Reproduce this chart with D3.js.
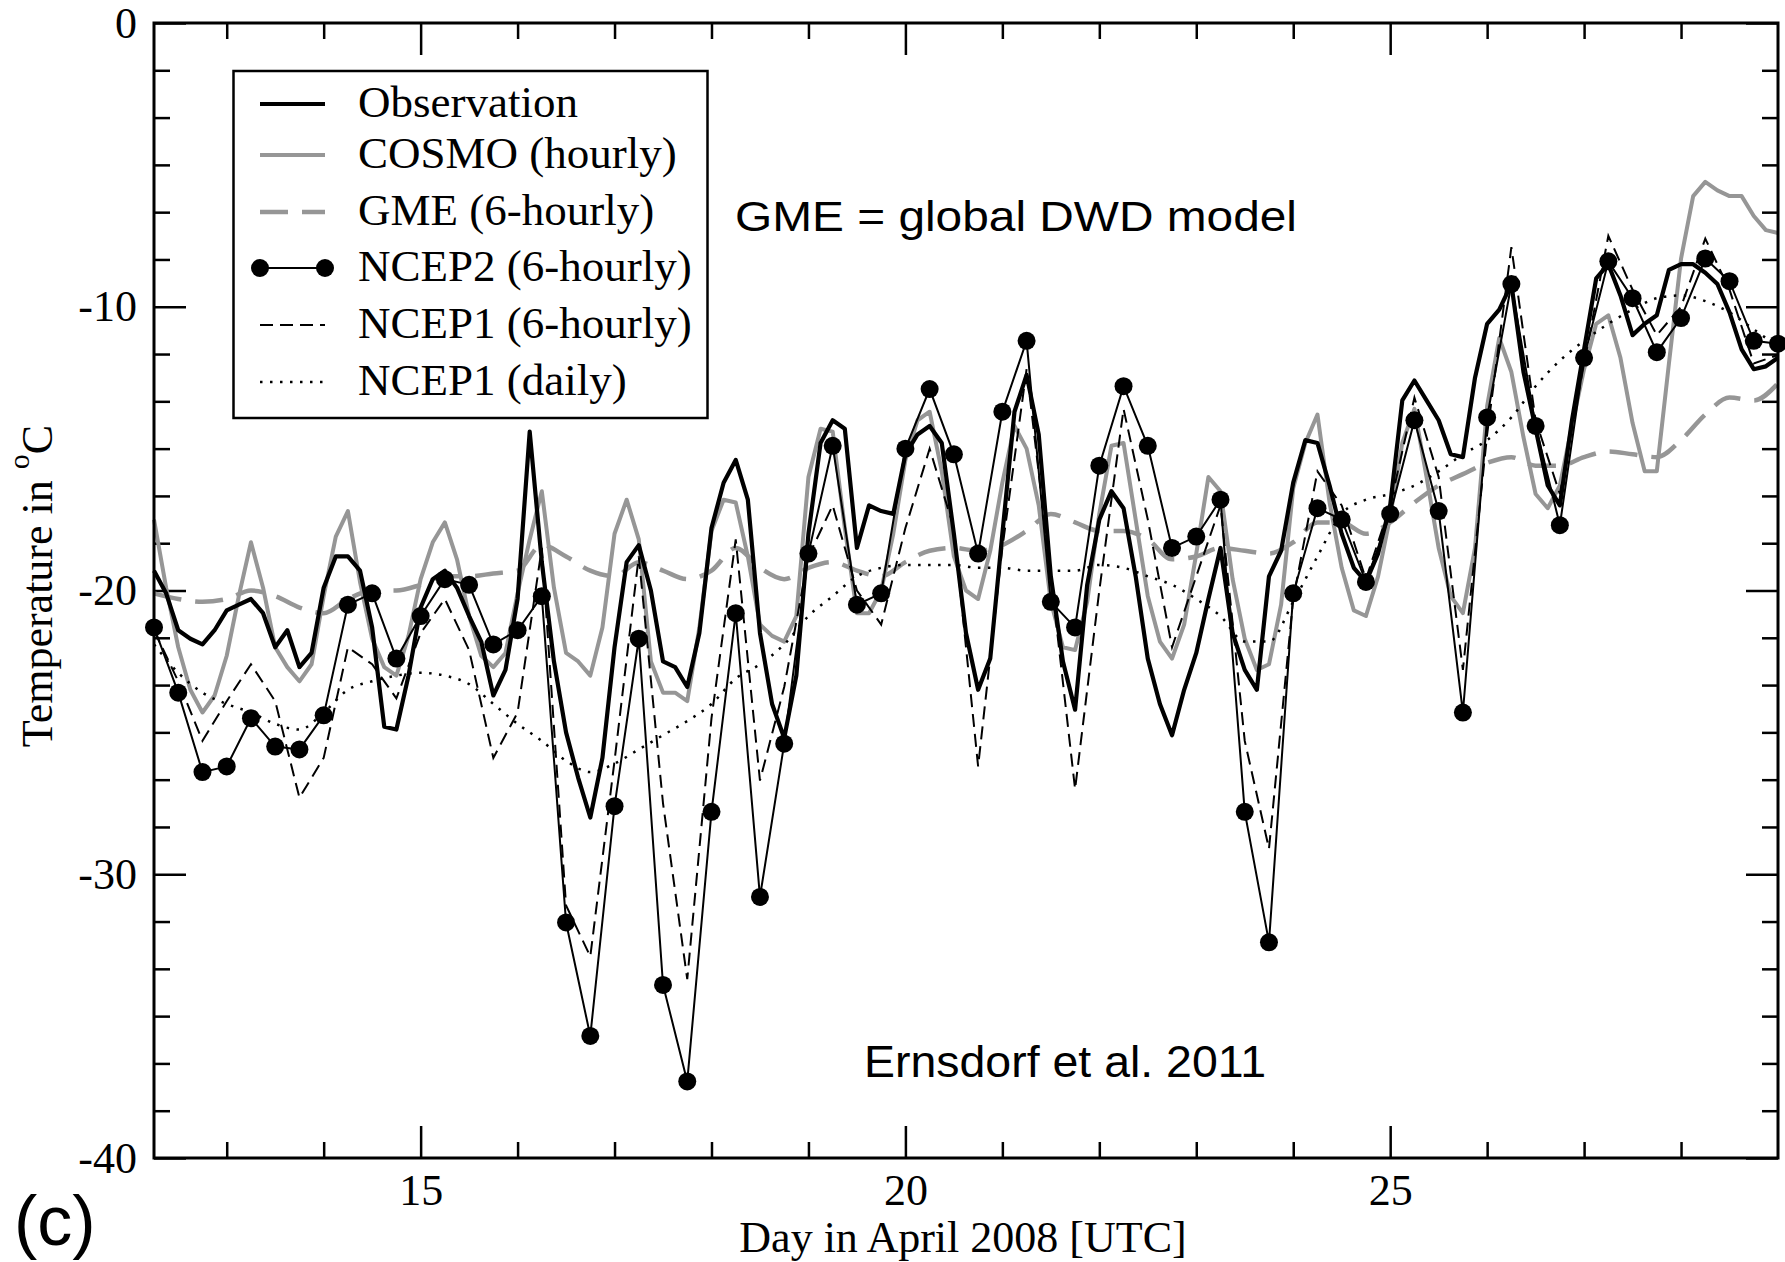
<!DOCTYPE html>
<html><head><meta charset="utf-8">
<script src="https://cdn.jsdelivr.net/npm/d3@7"></script>
<style>html,body{margin:0;padding:0;background:#fff;} svg{display:block}</style>
</head><body><svg id="chart" width="1785" height="1262"></svg>
<script>
// ---------------- DATA ----------------
const startDay = 12.25;          // first sample (12 April, 06 UTC)
const step3h = 0.125, step6h = 0.25;

// Observation, 3-hourly readings, 12.25 .. 29.0
const obs = [
 -19.3,-20.1,-21.4,-21.7,-21.9,-21.4,-20.7,-20.5,
 -20.3,-20.8,-22.0,-21.4,-22.7,-22.2,-19.9,-18.8,
 -18.8,-19.3,-21.3,-24.8,-24.9,-23.0,-20.6,-19.6,
 -19.3,-19.9,-20.9,-21.8,-23.7,-22.8,-20.3,-14.4,
 -19.0,-22.5,-25.0,-26.6,-28.0,-25.9,-22.0,-19.0,
 -18.4,-20.0,-22.5,-22.7,-23.4,-21.5,-17.8,-16.2,
 -15.4,-16.8,-21.5,-24.0,-25.2,-23.0,-18.0,-14.8,
 -14.0,-14.3,-18.5,-17.0,-17.2,-17.3,-15.2,-14.5,
 -14.2,-14.8,-18.0,-21.5,-23.5,-22.4,-18.0,-13.7,
 -12.4,-14.5,-19.5,-22.5,-24.2,-19.8,-17.5,-16.5,
 -17.1,-19.5,-22.4,-24.0,-25.1,-23.5,-22.2,-20.3,
 -18.5,-21.5,-22.8,-23.5,-19.5,-18.6,-16.2,-14.7,
 -14.8,-16.3,-18.0,-19.2,-19.7,-18.7,-17.0,-13.3,
 -12.6,-13.3,-14.0,-15.2,-15.3,-12.5,-10.6,-10.1,
 -9.2,-12.3,-14.3,-16.3,-17.0,-14.0,-11.5,-9.0,
 -8.5,-9.6,-11.0,-10.6,-10.3,-8.7,-8.5,-8.5,
 -8.8,-9.2,-10.2,-11.5,-12.2,-12.1,-11.8
];

// COSMO (hourly model, read at 3-hourly steps), 12.25 .. 29.0
const cosmo = [
 -17.5,-19.9,-22.0,-23.5,-24.3,-23.7,-22.3,-20.2,
 -18.3,-19.9,-22.0,-22.7,-23.2,-22.6,-20.2,-18.1,
 -17.2,-19.7,-21.7,-22.7,-23.0,-21.6,-19.6,-18.3,
 -17.6,-18.9,-20.9,-22.3,-22.7,-22.2,-20.1,-18.2,
 -16.5,-19.9,-22.2,-22.5,-23.0,-21.3,-18.0,-16.8,
 -18.2,-22.5,-23.6,-23.6,-23.9,-21.3,-17.9,-16.8,
 -16.9,-18.8,-21.2,-21.6,-21.8,-20.9,-16.0,-14.3,
 -14.4,-17.8,-20.8,-20.8,-20.0,-18.0,-15.4,-14.0,
 -13.7,-15.8,-18.8,-20.0,-20.3,-18.6,-16.2,-14.2,
 -15.0,-17.0,-20.4,-22.0,-22.1,-20.4,-17.3,-14.9,
 -14.8,-17.5,-20.2,-21.8,-22.4,-21.2,-18.7,-16.0,
 -16.5,-19.6,-21.7,-22.8,-22.6,-20.5,-16.4,-14.8,
 -13.8,-16.9,-19.2,-20.7,-20.9,-19.5,-17.4,-14.8,
 -13.6,-16.0,-18.5,-20.2,-20.8,-18.5,-13.5,-11.1,
 -12.3,-14.6,-16.6,-17.1,-16.3,-14.2,-12.2,-10.6,
 -10.3,-11.8,-14.1,-15.8,-15.8,-12.0,-8.3,-6.1,
 -5.6,-5.9,-6.1,-6.1,-6.8,-7.3,-7.4
];

// GME, 6-hourly, 12.25 .. 29.0
const gme = [
 -20.1,-20.3,-20.4,-20.3,  -20.0,-20.2,-20.6,-20.8,
 -20.3,-20.0,-20.0,-19.8,  -19.5,-19.5,-19.4,-19.3,
 -18.4,-18.8,-19.3,-19.5,  -19.0,-19.3,-19.6,-19.3,
 -18.5,-19.2,-19.6,-19.2,  -19.0,-19.3,-19.5,-19.0,
 -18.6,-18.5,-18.6,-18.4,  -17.9,-17.3,-17.6,-17.9,
 -17.9,-18.2,-18.9,-18.8,  -18.5,-18.6,-18.7,-18.3,
 -17.6,-17.6,-18.0,-17.6,  -16.9,-16.3,-15.9,-15.5,
 -15.3,-15.6,-15.6,-15.3,  -15.1,-15.2,-15.3,-14.7,
 -13.8,-13.2,-13.3,-12.7
];

// NCEP2, 6-hourly, 12.25 .. 29.0
const ncep2 = [
 -21.3,-23.6,-26.4,-26.2,  -24.5,-25.5,-25.6,-24.4,
 -20.5,-20.1,-22.4,-20.9,  -19.6,-19.8,-21.9,-21.4,
 -20.2,-31.7,-35.7,-27.6,  -21.7,-33.9,-37.3,-27.8,
 -20.8,-30.8,-25.4,-18.7,  -14.9,-20.5,-20.1,-15.0,
 -12.9,-15.2,-18.7,-13.7,  -11.2,-20.4,-21.3,-15.6,
 -12.8,-14.9,-18.5,-18.1,  -16.8,-27.8,-32.4,-20.1,
 -17.1,-17.5,-19.7,-17.3,  -14.0,-17.2,-24.3,-13.9,
 -9.2,-14.2,-17.7,-11.8,   -8.4,-9.7,-11.6,-10.4,
 -8.3,-9.1,-11.2,-11.3
];

// NCEP1, 6-hourly, 12.25 .. 29.0
const ncep1 = [
 -21.4,-23.2,-25.3,-23.9,  -22.6,-23.9,-27.3,-25.9,
 -22.0,-22.6,-23.8,-21.5,  -20.3,-22.1,-25.9,-24.3,
 -18.5,-31.1,-32.9,-26.0,  -18.8,-27.5,-33.7,-24.5,
 -18.2,-26.7,-23.4,-18.8,  -17.0,-20.0,-21.2,-17.8,
 -15.0,-17.8,-26.2,-18.5,  -12.2,-19.5,-27.0,-20.0,
 -13.6,-17.5,-22.0,-19.5,  -17.0,-25.3,-29.1,-20.3,
 -15.8,-17.0,-19.6,-17.0,  -13.2,-16.0,-22.8,-14.5,
 -7.9,-14.0,-16.6,-12.0,   -7.5,-9.4,-11.0,-10.0,
 -7.6,-9.4,-12.0,-11.7
];

// NCEP1 daily (curve read at 6-hourly steps), 12.25 .. 29.0
const ncep1Daily = [
 -21.9,-22.9,-23.6,-24.0,  -24.3,-24.7,-24.9,-24.3,
 -23.5,-23.2,-23.0,-22.9,  -23.0,-23.3,-24.0,-24.7,
 -25.3,-26.0,-26.4,-26.1,  -25.6,-25.1,-24.6,-24.0,
 -23.1,-22.6,-21.9,-20.9,  -20.2,-19.5,-19.2,-19.1,
 -19.1,-19.1,-19.2,-19.2,  -19.3,-19.3,-19.3,-19.1,
 -19.2,-19.5,-19.8,-20.3,  -20.9,-21.8,-21.8,-20.4,
 -18.8,-17.3,-16.8,-16.6,  -16.3,-15.8,-15.2,-14.7,
 -13.9,-12.8,-11.9,-11.2,  -10.6,-10.1,-9.7,-9.6,
 -9.8,-10.2,-10.8,-11.4
];

const xMajor = [15, 20, 25];
const xMinor = [13, 14, 16, 17, 18, 19, 21, 22, 23, 24, 26, 27, 28];
const yMajor = [0, -10, -20, -30, -40];
const legendLabels = ["Observation", "COSMO (hourly)", "GME (6-hourly)",
                      "NCEP2 (6-hourly)", "NCEP1 (6-hourly)", "NCEP1 (daily)"];

// ---------------- LAYOUT ----------------
const W = 1785, H = 1262;
const M = {left: 154, right: 1778, top: 23, bottom: 1158};
const serif = "'Liberation Serif','Times New Roman',Times,serif";
const sans = "'Liberation Sans',Arial,Helvetica,sans-serif";
const GRAY = "#969696";

const x = d3.scaleLinear().domain([12.25, 29]).range([M.left, M.right]);
const y = d3.scaleLinear().domain([-40, 0]).range([M.bottom, M.top]);

const svg = d3.select("#chart");
svg.append("rect").attr("width", W).attr("height", H).attr("fill", "#fff");

const times = (n, step) => d3.range(n).map(i => startDay + i * step);
const pairs = (vals, step) => { const t = times(vals.length, step); return vals.map((v, i) => [t[i], v]); };

const line = d3.line().x(d => x(d[0])).y(d => y(d[1]));
const smooth = d3.line().x(d => x(d[0])).y(d => y(d[1])).curve(d3.curveMonotoneX);
const plain = d => String(d);   // hyphen-minus like the original

// y minor tick values: 5 minor ticks between majors
const yMinor = [];
for (let k = 1; k < 24; k++) if (k % 6 !== 0) yMinor.push(-40 + k * 10 / 6);

// ---------------- AXES (ticks inward on all four sides) ----------------
function styleAxis(g) {
  g.select(".domain").remove();
  g.selectAll("line").attr("stroke", "#000").attr("stroke-width", 2.5);
  g.selectAll("text").attr("font-family", serif).attr("font-size", 44).attr("fill", "#000");
}
svg.append("g").attr("transform", `translate(0,${M.bottom})`)
  .call(d3.axisBottom(x).tickValues(xMajor).tickSize(-32).tickPadding(16).tickFormat(plain)).call(styleAxis);
svg.append("g").attr("transform", `translate(0,${M.bottom})`)
  .call(d3.axisBottom(x).tickValues(xMinor).tickSize(-16).tickFormat("")).call(styleAxis);
svg.append("g").attr("transform", `translate(0,${M.top})`)
  .call(d3.axisTop(x).tickValues(xMajor).tickSize(-32).tickFormat("")).call(styleAxis);
svg.append("g").attr("transform", `translate(0,${M.top})`)
  .call(d3.axisTop(x).tickValues(xMinor).tickSize(-16).tickFormat("")).call(styleAxis);

svg.append("g").attr("transform", `translate(${M.left},0)`)
  .call(d3.axisLeft(y).tickValues(yMajor).tickSize(-32).tickPadding(17).tickFormat(plain)).call(styleAxis);
svg.append("g").attr("transform", `translate(${M.left},0)`)
  .call(d3.axisLeft(y).tickValues(yMinor).tickSize(-16).tickFormat("")).call(styleAxis);
svg.append("g").attr("transform", `translate(${M.right},0)`)
  .call(d3.axisRight(y).tickValues(yMajor).tickSize(-32).tickFormat("")).call(styleAxis);
svg.append("g").attr("transform", `translate(${M.right},0)`)
  .call(d3.axisRight(y).tickValues(yMinor).tickSize(-16).tickFormat("")).call(styleAxis);

// ---------------- SERIES ----------------
const plot = svg.append("g");
plot.append("path").datum(pairs(gme, step6h)).attr("d", smooth)
  .attr("fill", "none").attr("stroke", GRAY).attr("stroke-width", 4.5).attr("stroke-dasharray", "28,14");
plot.append("path").datum(pairs(cosmo, step3h)).attr("d", line)
  .attr("fill", "none").attr("stroke", GRAY).attr("stroke-width", 4).attr("stroke-linejoin", "round");
plot.append("path").datum(pairs(ncep1Daily, step6h)).attr("d", smooth)
  .attr("fill", "none").attr("stroke", "#000").attr("stroke-width", 2.5).attr("stroke-dasharray", "2.5,7.5");
plot.append("path").datum(pairs(ncep1, step6h)).attr("d", line)
  .attr("fill", "none").attr("stroke", "#000").attr("stroke-width", 2).attr("stroke-dasharray", "13,7");
plot.append("path").datum(pairs(obs, step3h)).attr("d", line)
  .attr("fill", "none").attr("stroke", "#000").attr("stroke-width", 4.2).attr("stroke-linejoin", "round");
plot.append("path").datum(pairs(ncep2, step6h)).attr("d", line)
  .attr("fill", "none").attr("stroke", "#000").attr("stroke-width", 2);

// frame
svg.append("rect").attr("x", M.left).attr("y", M.top)
  .attr("width", M.right - M.left).attr("height", M.bottom - M.top)
  .attr("fill", "none").attr("stroke", "#000").attr("stroke-width", 3);

svg.append("g").selectAll("circle").data(pairs(ncep2, step6h)).join("circle")
  .attr("cx", d => x(d[0])).attr("cy", d => y(d[1])).attr("r", 9).attr("fill", "#000");

// ---------------- LEGEND ----------------
const lg = svg.append("g");
lg.append("rect").attr("x", 233.5).attr("y", 71).attr("width", 474).attr("height", 347)
  .attr("fill", "#fff").attr("stroke", "#000").attr("stroke-width", 2.5);
const rowY = [104, 155, 212, 268, 325, 382];
const symX1 = 260, symX2 = 325, txtX = 358;
const sym = [
  {stroke: "#000", w: 4.2, dash: null},
  {stroke: GRAY, w: 4, dash: null},
  {stroke: GRAY, w: 4.5, dash: "28,14"},
  {stroke: "#000", w: 2, dash: null, dots: true},
  {stroke: "#000", w: 2, dash: "13,7"},
  {stroke: "#000", w: 2.5, dash: "2.5,7.5"}
];
legendLabels.forEach((lab, i) => {
  const s = sym[i], yy = rowY[i];
  const l = lg.append("line").attr("x1", symX1).attr("x2", symX2).attr("y1", yy).attr("y2", yy)
    .attr("stroke", s.stroke).attr("stroke-width", s.w);
  if (s.dash) l.attr("stroke-dasharray", s.dash);
  if (s.dots) {
    lg.append("circle").attr("cx", symX1).attr("cy", yy).attr("r", 9).attr("fill", "#000");
    lg.append("circle").attr("cx", symX2).attr("cy", yy).attr("r", 9).attr("fill", "#000");
  }
  lg.append("text").attr("x", txtX).attr("y", yy + 13).attr("font-family", serif)
    .attr("font-size", 45).attr("fill", "#000").text(lab);
});

// ---------------- TEXTS ----------------
svg.append("text").attr("x", 963).attr("y", 1252).attr("text-anchor", "middle")
  .attr("font-family", serif).attr("font-size", 44).attr("fill", "#000")
  .text("Day in April 2008 [UTC]");

const yt = svg.append("text").attr("transform", "translate(52,586) rotate(-90)")
  .attr("text-anchor", "middle").attr("font-family", serif).attr("font-size", 44).attr("fill", "#000");
yt.append("tspan").text("Temperature in ");
yt.append("tspan").attr("font-size", 30).attr("dy", -23).text("o");
yt.append("tspan").attr("dy", 23).text("C");

svg.append("text").attr("x", 735).attr("y", 231).attr("font-family", sans).attr("font-size", 43)
  .attr("textLength", 562).attr("lengthAdjust", "spacingAndGlyphs").attr("fill", "#000")
  .text("GME = global DWD model");
svg.append("text").attr("x", 864).attr("y", 1077).attr("font-family", sans).attr("font-size", 44)
  .attr("textLength", 402).attr("lengthAdjust", "spacingAndGlyphs").attr("fill", "#000")
  .text("Ernsdorf et al. 2011");
svg.append("text").attr("x", 14).attr("y", 1245).attr("font-family", sans).attr("font-size", 70)
  .attr("fill", "#000").text("(c)");
</script>
</body></html>
